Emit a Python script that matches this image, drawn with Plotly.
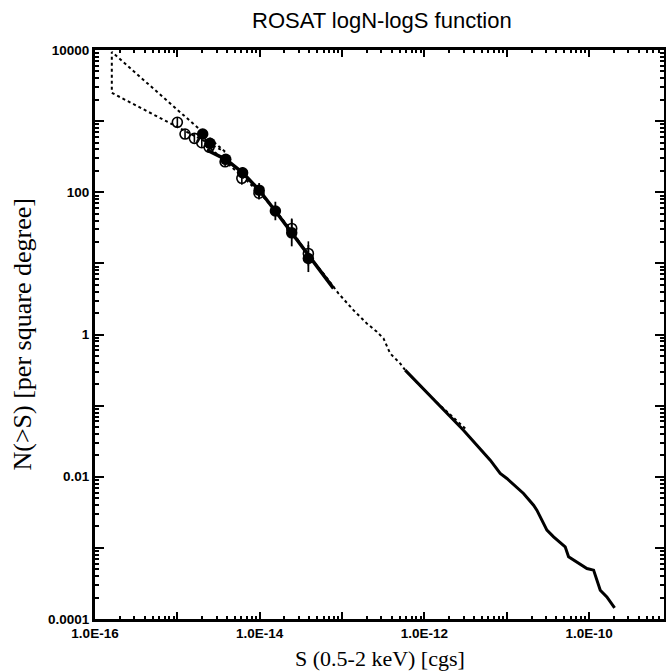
import numpy as np
import plotly.graph_objects as go

# ---- data ----
# bow-tie (fluctuation analysis) outline
bow_S = [3.8e-15, 1.6e-16, 1.6e-16, 3.8e-15]
bow_N = [370, 9400, 2500, 370]

# open circles
open_S = [1.0e-15, 1.24e-15, 1.61e-15, 1.98e-15, 2.43e-15, 3.8e-15, 6.07e-15, 9.8e-15, 2.45e-14, 3.9e-14]
open_N = [962, 658, 573, 497, 429, 268, 157, 97, 31, 13.8]
open_err_dex = [0.07, 0.07, 0.06, 0.06, 0.06, 0.07, 0.09, 0.09, 0.14, 0.17]

# filled circles
fill_S = [2.03e-15, 2.49e-15, 3.87e-15, 6.2e-15, 9.85e-15, 1.55e-14, 2.45e-14, 3.9e-14]
fill_N = [658, 487, 290, 188, 107, 54.5, 26.9, 11.7]
fill_err_dex = [0.04, 0.05, 0.06, 0.08, 0.1, 0.13, 0.19, 0.19]

# solid curve, faint end
solid1_logS = [-14.643, -14.412, -14.206, -14.007, -13.81, -13.61, -13.408, -13.25, -13.104]
solid1_logN = [2.594, 2.463, 2.275, 2.031, 1.736, 1.43, 1.117, 0.87, 0.648]

# solid curve, bright end
solid2_logS = [-12.233, -11.525, -11.2, -11.079, -10.998, -10.796, -10.674, -10.634, -10.573,
               -10.512, -10.431, -10.29, -10.249, -10.026, -9.945, -9.864, -9.784, -9.69]
solid2_logN = [-0.501, -1.345, -1.767, -1.954, -2.024, -2.235, -2.4, -2.47, -2.61,
               -2.751, -2.845, -2.986, -3.126, -3.29, -3.313, -3.595, -3.689, -3.844]

# dotted curve
dot_logS = [-14.6, -14.4, -14.2, -14.0, -13.8, -13.6, -13.4, -13.2, -13.044, -12.862,
            -12.699, -12.577, -12.497, -12.416, -12.294, -12.233, -11.9, -11.504]
dot_logN = [2.62, 2.42, 2.21, 1.99, 1.73, 1.44, 1.1, 0.82, 0.578, 0.343,
            0.156, 0.038, -0.055, -0.266, -0.407, -0.501, -0.9, -1.321]

x_major = [10.0 ** k for k in range(-16, -8)]
x_labels = {-16: "1.0E-16", -14: "1.0E-14", -12: "1.0E-12", -10: "1.0E-10"}
y_major = [10.0 ** k for k in range(-4, 5)]
y_labels = {-4: "0.0001", -2: "0.01", 0: "1", 2: "100", 4: "10000"}

# ---- figure ----
def errs(N, e):
    N = np.array(N); e = np.array(e)
    return N * (10 ** e - 1), N * (1 - 10 ** (-e))

fig = go.Figure()

fig.add_trace(go.Scatter(x=bow_S, y=bow_N, mode="lines",
                         line=dict(color="black", width=2, dash="dot"), showlegend=False))
fig.add_trace(go.Scatter(x=[10 ** v for v in dot_logS], y=[10 ** v for v in dot_logN], mode="lines",
                         line=dict(color="black", width=2, dash="dot"), showlegend=False))
fig.add_trace(go.Scatter(x=[10 ** v for v in solid1_logS], y=[10 ** v for v in solid1_logN], mode="lines",
                         line=dict(color="black", width=3.5), showlegend=False))
fig.add_trace(go.Scatter(x=[10 ** v for v in solid2_logS], y=[10 ** v for v in solid2_logN], mode="lines",
                         line=dict(color="black", width=3), showlegend=False))

op, om = errs(open_N, open_err_dex)
fig.add_trace(go.Scatter(x=open_S, y=open_N, mode="markers",
                         marker=dict(symbol="circle-open", size=10, color="black", line=dict(width=1.6)),
                         error_y=dict(type="data", array=op, arrayminus=om, color="black", thickness=1.6, width=0),
                         showlegend=False))
fp, fm = errs(fill_N, fill_err_dex)
fig.add_trace(go.Scatter(x=fill_S, y=fill_N, mode="markers",
                         marker=dict(symbol="circle", size=11.5, color="black"),
                         error_y=dict(type="data", array=fp, arrayminus=fm, color="black", thickness=1.8, width=0),
                         showlegend=False))

x_minor = [m * 10.0 ** k for k in range(-16, -9) for m in range(2, 10)]
y_minor = [m * 10.0 ** k for k in range(-4, 4) for m in range(2, 10)]

fig.update_layout(
    width=666, height=671,
    margin=dict(l=95, r=2, t=50, b=52),
    paper_bgcolor="white", plot_bgcolor="white",
    xaxis=dict(type="log", range=[-16, -9.09], automargin=False,
               tickmode="array", tickvals=x_major,
               ticktext=[x_labels.get(k, "") for k in range(-16, -8)],
               ticks="inside", ticklen=7, tickwidth=2, tickcolor="black",
               minor=dict(tickmode="array", tickvals=x_minor, ticks="inside", ticklen=3, tickwidth=2, tickcolor="black"),
               showline=True, linewidth=3, linecolor="black", mirror="ticks",
               showgrid=False, zeroline=False,
               tickfont=dict(family="Liberation Sans, Arial", size=13.5, color="black", weight="bold")),
    yaxis=dict(type="log", range=[-4, 4], automargin=False,
               tickmode="array", tickvals=y_major,
               ticktext=[y_labels.get(k, "") for k in range(-4, 5)],
               ticks="inside", ticklen=9, tickwidth=2, tickcolor="black",
               minor=dict(tickmode="array", tickvals=y_minor, ticks="inside", ticklen=4, tickwidth=2, tickcolor="black"),
               showline=True, linewidth=3, linecolor="black", mirror="ticks",
               showgrid=False, zeroline=False,
               tickfont=dict(family="Liberation Sans, Arial", size=13.5, color="black", weight="bold")),
    annotations=[
        dict(text="ROSAT logN-logS function", xref="paper", yref="paper", x=0.5, y=1,
             xshift=2, yshift=30, showarrow=False, xanchor="center", yanchor="middle",
             font=dict(family="Liberation Sans, Arial", size=22, color="black")),
        dict(text="S (0.5-2 keV) [cgs]", xref="paper", yref="paper", x=0.5, y=0,
             yshift=-39, showarrow=False, xanchor="center", yanchor="middle",
             font=dict(family="Liberation Serif, Times New Roman", size=22, color="black")),
        dict(text="N(>S) [per square degree]", xref="paper", yref="paper", x=0, y=0.5,
             xshift=-73, showarrow=False, xanchor="center", yanchor="middle", textangle=-90,
             font=dict(family="Liberation Serif, Times New Roman", size=26, color="black")),
    ],
)

fig.write_html("out.html", config={"displayModeBar": False},
               post_script="document.body.style.margin='0';document.body.style.overflow='hidden';")
